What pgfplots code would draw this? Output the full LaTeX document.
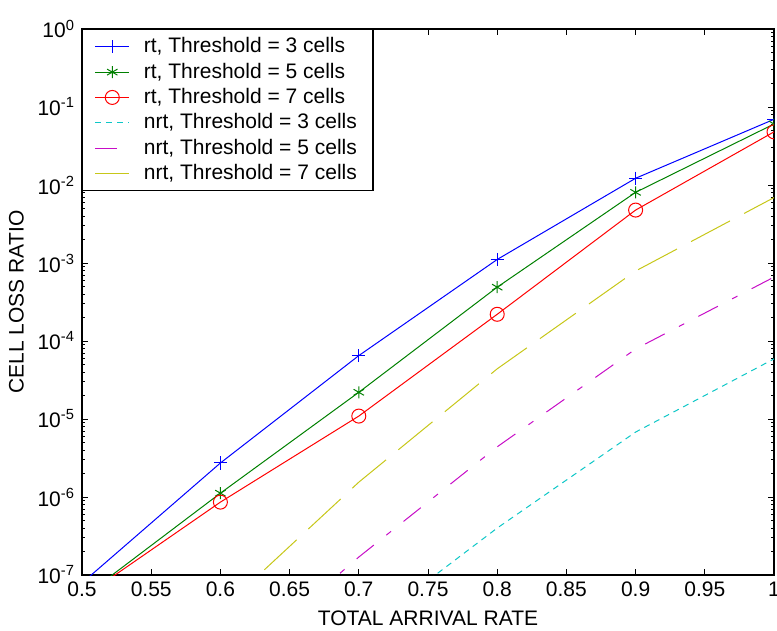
\documentclass[border=0pt]{standalone}
\usepackage{fontspec}
\setmainfont{Liberation Sans}
\usepackage{pgfplots}
\pgfplotsset{compat=1.18}

\definecolor{mblue}{rgb}{0,0,1}
\definecolor{mgreen}{rgb}{0,0.5,0}
\definecolor{mred}{rgb}{1,0,0}
\definecolor{mcyan}{rgb}{0.05,0.78,0.78}
\definecolor{mmagenta}{rgb}{0.78,0.05,0.78}
\definecolor{myellow}{rgb}{0.78,0.78,0.1}

\begin{document}
\begin{tikzpicture}
  \begin{axis}[
    scale only axis,
    width=346pt, height=273pt,
    ymode=log,
    xmin=0.5, xmax=1, ymin=1e-7, ymax=1,
    xtick={0.5,0.55,0.6,0.65,0.7,0.75,0.8,0.85,0.9,0.95,1},
    xticklabels={0.5,0.55,0.6,0.65,0.7,0.75,0.8,0.85,0.9,0.95,1},
    yticklabel={10\textsuperscript{\pgfmathparse{int(round(\tick/2.302585))}\pgfmathresult}},
    font=\fontsize{10.5}{12}\selectfont,
    /pgf/number format/assume math mode=true,
    xlabel={TOTAL ARRIVAL RATE},
    ylabel={CELL LOSS RATIO},
    major tick length=3pt, minor tick length=1.5pt,
    axis line style={line width=0.7pt},
    every tick/.style={black, line width=0.4pt},
    clip marker paths=true,
    legend cell align=left,
    legend style={at={(0,1)}, anchor=north west, draw=black, line width=0.7pt,
      font=\fontsize{10.5}{12}\selectfont, row sep=-0.45pt,
      inner xsep=6pt, column sep=5pt},
    every axis plot/.append style={line width=0.5pt},
  ]

    % rt series
    \addplot[mblue, mark=+, mark size=3.3pt] coordinates {
      (0.5,7.9e-8) (0.6,2.73e-6) (0.7,6.5e-5) (0.8,1.11e-3) (0.9,1.22e-2) (1.0,6.95e-2)
    };
    \addlegendentry{rt, Threshold = 3 cells}

    \addplot[mgreen, mark=asterisk, mark size=3pt] coordinates {
      (0.5,5.1e-8) (0.6,1.12e-6) (0.7,2.2e-5) (0.8,4.9e-4) (0.9,8.05e-3) (1.0,6.05e-2)
    };
    \addlegendentry{rt, Threshold = 5 cells}

    \addplot[mred, mark=o, mark size=3.5pt] coordinates {
      (0.5,5.1e-8) (0.6,8.6e-7) (0.7,1.09e-5) (0.8,2.2e-4) (0.9,4.77e-3) (1.0,4.8e-2)
    };
    \addlegendentry{rt, Threshold = 7 cells}

    % nrt series
    \addplot[mcyan, dash pattern=on 3pt off 2.5pt] coordinates {
      (0.7,1.8e-8) (0.8,4.0e-7) (0.9,6.8e-6) (1.0,5.9e-5)
    };
    \addlegendentry{nrt, Threshold = 3 cells}

    \addplot[mmagenta, dash pattern=on 11pt off 8pt on 3pt off 8pt] coordinates {
      (0.6,5e-9) (0.7,1.7e-7) (0.8,4.4e-6) (0.9,7.9e-5) (1.0,6.6e-4)
    };
    \addlegendentry{nrt, Threshold = 5 cells}

    \addplot[myellow, dash pattern=on 22pt off 8pt, forget plot] coordinates {
      (0.6,3.5e-8) (0.7,1.55e-6) (0.8,4.4e-5) (0.9,7.9e-4) (1.0,6.9e-3)
    };
    \addlegendimage{myellow, solid, line width=0.5pt}
    \addlegendentry{nrt, Threshold = 7 cells}

  \end{axis}
  \pgfresetboundingbox
  \path[use as bounding box] ([xshift=-41pt,yshift=-27.5pt]current axis.south west)
    rectangle ([xshift=1.5pt,yshift=14.5pt]current axis.north east);
\end{tikzpicture}
\end{document}
